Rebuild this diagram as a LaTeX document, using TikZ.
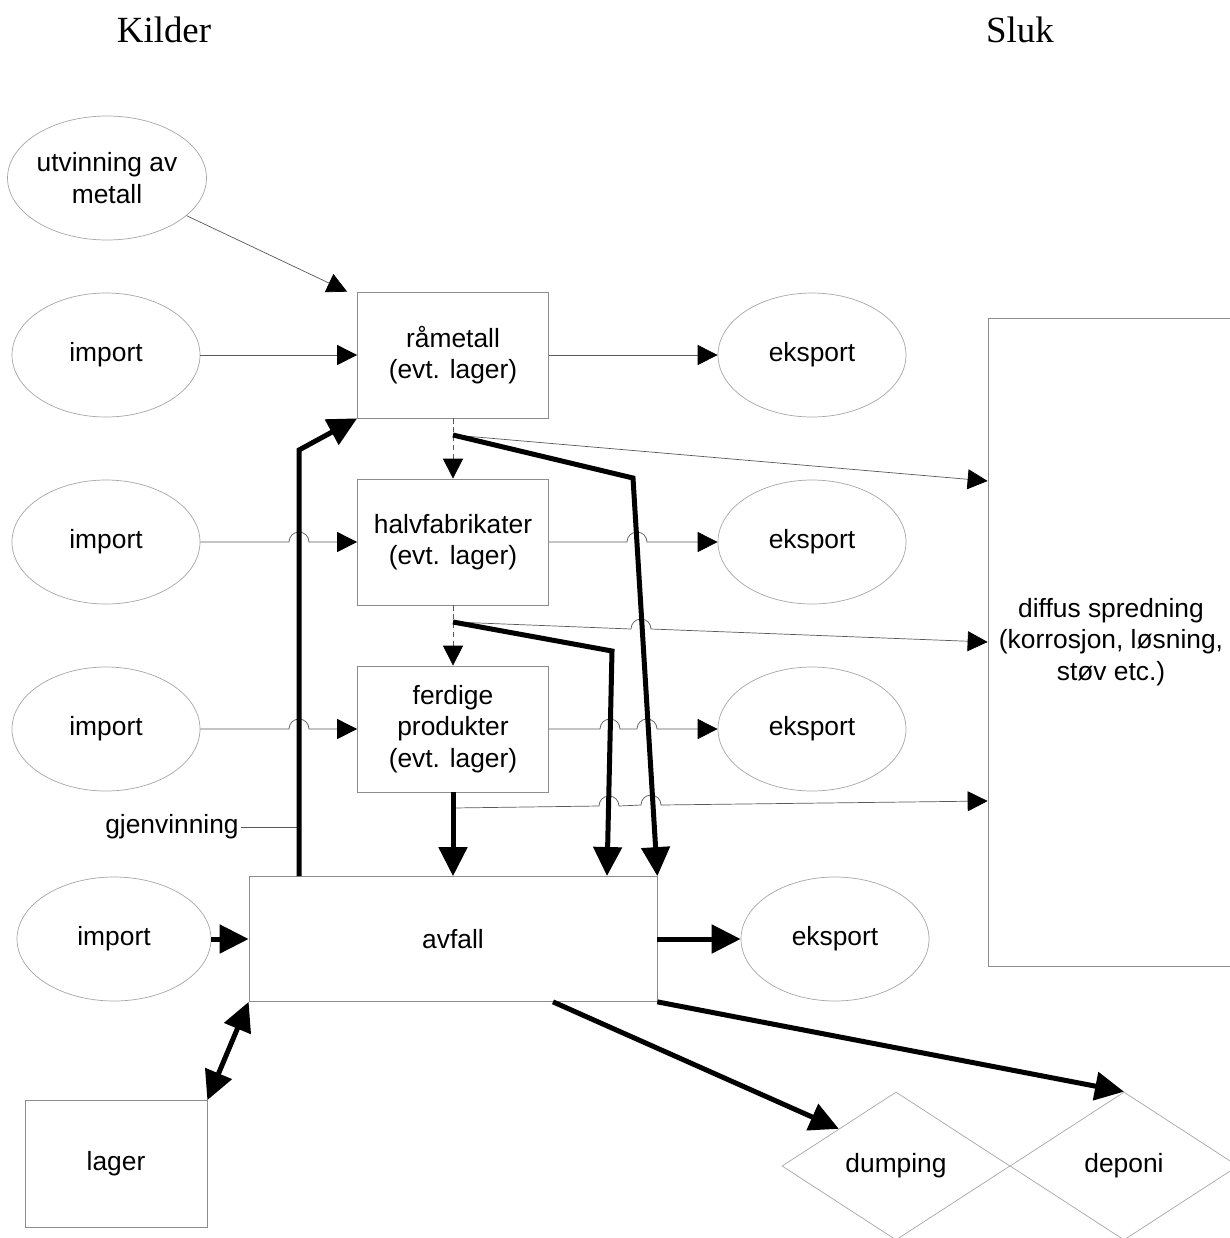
\documentclass[tikz,border=0pt]{standalone}
\usepackage{fontspec}
\setmainfont{Liberation Sans}
\newfontfamily\titlefont{Liberation Serif}
\usetikzlibrary{shapes.geometric,arrows.meta}

\begin{document}
\begin{tikzpicture}
  [x=0.2mm,y=-0.2mm,font=\fontsize{15}{18}\selectfont,
   box/.style={draw=black!45,line width=0.4pt,align=center,inner sep=0pt,
     minimum width=38.2mm,minimum height=25.2mm},
   oval/.style={ellipse,draw=black!35,line width=0.4pt,align=center,inner sep=0pt,
     minimum width=37.6mm,minimum height=24.8mm},
   sink/.style={diamond,draw=black!35,line width=0.4pt,inner sep=0pt,
     minimum width=45.6mm,minimum height=29.6mm},
   flow/.style={draw=black!65,line width=0.4pt,-{Triangle[length=4mm,width=4mm,color=black]}},
   bigflow/.style={line width=1mm,-{Triangle[length=5.8mm,width=5.6mm]}}]
  \useasboundingbox (0,0) rectangle (1230,1238);

  \node[font=\titlefont\fontsize{21}{25}\selectfont] (kil) at (164,30) {Kilder};
  \node[font=\titlefont\fontsize{21}{25}\selectfont] (slu) at (1020,30) {Sluk};

  \node[oval] (utv)  at (107,178) {utvinning av\\metall};
  \node[oval] (imp1) at (106,355) {import};
  \node[oval] (imp2) at (106,542) {import};
  \node[oval] (imp3) at (106,729) {import};
  \node[oval,minimum width=38.8mm] (imp4) at (114,939) {import};

  \node[box] (ra) at (453,355) {råmetall\\(evt. lager)};
  \node[box] (ha) at (453,542) {halvfabrikater\\(evt. lager)};
  \node[box] (fe) at (453,729) {ferdige\\produkter\\(evt. lager)};
  \node[box,minimum width=81.6mm,minimum height=25mm] (av) at (453,939) {avfall};
  \node[box,minimum width=36.4mm,minimum height=25.4mm] (lag) at (116,1164) {lager};

  \node[oval] (eks1) at (812,355) {eksport};
  \node[oval] (eks2) at (812,542) {eksport};
  \node[oval] (eks3) at (812,729) {eksport};
  \node[oval] (eks4) at (835,939) {eksport};

  \node[box,minimum width=49.2mm,minimum height=129.6mm] (dif) at (1111,642)
    {diffus spredning\\(korrosjon, løsning,\\støv etc.)};
  \node[sink] (dum) at (896,1166) {dumping};
  \node[sink] (dep) at (1124,1166) {deponi};

  \node[inner sep=1pt] (gjv) at (172,827) {gjenvinning};

  \coordinate (ra-out)   at (453,435);
  \coordinate (ra-bend)  at (633,478);
  \coordinate (ha-out)   at (453,622);
  \coordinate (ha-bend)  at (612,651);
  \coordinate (fe-out)   at (453,808);
  \coordinate (av-in)    at (607,876);
  \coordinate (gj-start) at (299,876);
  \coordinate (gj-bend)  at (299,450);

  % thin flows, with hops over the thick ones
  \draw[flow] (utv) -- ([xshift=-2mm]ra.north west);
  \draw[flow] (imp1) -- (ra);
  \draw[flow] (ra) -- (eks1);
  \draw[flow] (imp2) -- (289,542) arc[start angle=180,end angle=0,radius=2mm] -- (ha);
  \draw[flow] (ha) -- (627,542) arc[start angle=180,end angle=0,radius=2mm] -- (eks2);
  \draw[flow] (imp3) -- (289,729) arc[start angle=180,end angle=0,radius=2mm] -- (fe);
  \draw[flow] (fe) -- (600,729) arc[start angle=180,end angle=0,radius=2mm]
    -- (637,729) arc[start angle=180,end angle=0,radius=2mm] -- (eks3);
  \draw[flow,densely dashed] (ra) -- (ha);
  \draw[flow,densely dashed] (ha) -- (fe);
  \draw[flow] (ra-out) -- ([yshift=32.2mm]dif.west);
  \draw[flow] (ha-out) -- (631,629) arc[start angle=180,end angle=0,radius=2mm] -- (dif.west);
  \draw[flow] (fe-out) -- (599,806) arc[start angle=180,end angle=0,radius=2mm]
    -- (641,805) arc[start angle=180,end angle=0,radius=2mm] -- ([yshift=-31.8mm]dif.west);
  \draw[draw=black!65,line width=0.4pt] (gjv) -- (gj-start |- gjv);

  % thick flows
  \draw[bigflow] (ra-out) -- (ra-bend) -- (av.north east);
  \draw[bigflow] (ha-out) -- (ha-bend) -- (av-in);
  \draw[bigflow] (fe) -- (av);
  \draw[bigflow] (gj-start) -- (gj-bend) -- (ra.south west);
  \draw[bigflow] (imp4) -- (av);
  \draw[bigflow] (av) -- (eks4);
  \draw[bigflow,{Triangle[length=5.8mm,width=5.6mm]}-{Triangle[length=5.8mm,width=5.6mm]}]
    (lag.north east) -- (av.south west);
  \draw[bigflow] ([xshift=20mm]av.south) -- (dum.north west);
  \draw[bigflow] (av.south east) -- (dep.north);

\end{tikzpicture}
\end{document}
